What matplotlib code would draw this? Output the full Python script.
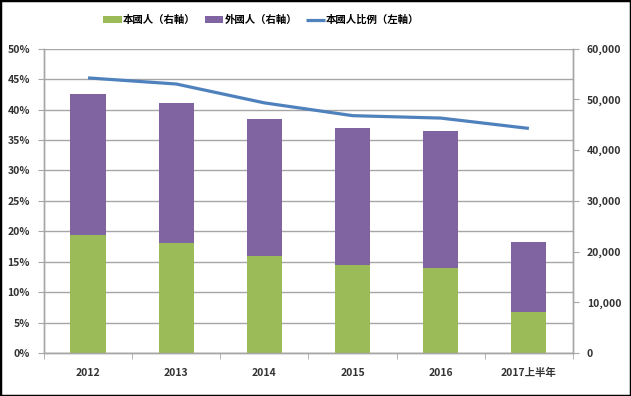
import matplotlib
matplotlib.use("Agg")
import matplotlib.pyplot as plt
from matplotlib.patches import Rectangle
from matplotlib.ticker import FuncFormatter, MultipleLocator, FixedLocator

plt.rcParams['font.family'] = ['Noto Sans CJK TC', 'DejaVu Sans']

# data
categories = ["2012", "2013", "2014", "2015", "2016", "2017上半年"]
local_people = [23300, 21700, 19100, 17350, 16800, 8050]      # 本國人 (right axis)
foreign_people = [27800, 27500, 27100, 27050, 27000, 13800]   # 外國人 (right axis)
local_ratio = [45.2, 44.2, 41.1, 39.0, 38.6, 36.9]            # 本國人比例 % (left axis)

green = "#9BBB59"
purple = "#8064A2"
blue = "#4F81BD"
grid_gray = "#A6A6A6"

fig = plt.figure(figsize=(6.31, 3.96), dpi=100)
ax = fig.add_axes([0.0697, 0.1086, 0.8383, 0.7684])
ax2 = ax.twinx()

x = list(range(len(categories)))

# gridlines + left axis
ax.set_ylim(0, 50)
ax.yaxis.set_major_locator(MultipleLocator(5))
ax.yaxis.set_major_formatter(FuncFormatter(lambda v, p: "{:.0f}%".format(v)))
ax.grid(axis="y", color=grid_gray, linewidth=1)
ax.set_axisbelow(True)
line, = ax.plot(x, local_ratio, color=blue, linewidth=2.3, solid_capstyle="butt",
                label="本國人比例（左軸）")

# stacked bars on right axis
b1 = ax2.bar(x, local_people, width=0.4, color=green, label="本國人（右軸）")
b2 = ax2.bar(x, foreign_people, width=0.4, bottom=local_people, color=purple,
             label="外國人（右軸）")
ax2.set_ylim(0, 60000)
ax2.yaxis.set_major_locator(MultipleLocator(10000))
ax2.yaxis.set_major_formatter(FuncFormatter(lambda v, p: "{:,.0f}".format(v)))

ax.set_xlim(-0.5, len(categories) - 0.5)
ax.set_xticks(x)
ax.set_xticklabels(categories)
ax.xaxis.set_minor_locator(FixedLocator([i - 0.5 for i in range(len(categories) + 1)]))
ax.tick_params(axis="x", which="major", length=0, pad=11)
ax.tick_params(axis="x", which="minor", length=4, color=grid_gray)

for a in (ax, ax2):
    a.spines["top"].set_visible(False)
    for s in ("left", "right", "bottom"):
        a.spines[s].set_color(grid_gray)
        a.spines[s].set_linewidth(1)
ax.tick_params(axis="y", length=4, color=grid_gray, pad=6)
ax2.tick_params(axis="y", length=4, color=grid_gray, pad=6)

for lab in ax.get_xticklabels() + ax.get_yticklabels() + ax2.get_yticklabels():
    lab.set_fontsize(7.5)
    lab.set_fontweight("bold")
    lab.set_color("#333333")

fig.legend(handles=[b1, b2, line], loc="center", bbox_to_anchor=(0.414, 0.949),
           ncol=3, frameon=False, handlelength=1.8, handletextpad=0.1,
           columnspacing=0.9, prop={"size": 7.5, "weight": "bold"})

# border round the chart
fig.patches.append(Rectangle((0, 0), 1, 1, transform=fig.transFigure, fill=False,
                             edgecolor="black", linewidth=2.5))

fig.savefig("out.png", dpi=100)
